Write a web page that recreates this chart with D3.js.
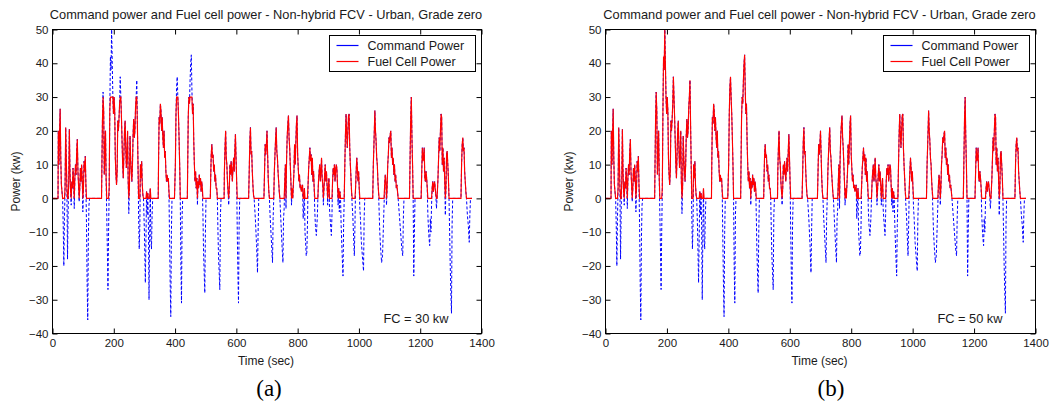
<!DOCTYPE html>
<html>
<head>
<meta charset="utf-8">
<script src="https://cdn.jsdelivr.net/npm/d3@7/dist/d3.min.js"></script>
<style>
  html, body { margin: 0; padding: 0; background: #ffffff; }
  svg { display: block; }
  text { font-family: Arial, "Liberation Sans", sans-serif; fill: #1a1a1a; }
</style>
</head>
<body>
<svg id="chart" width="1052" height="405"></svg>
<script>
// ---------------- data ----------------
const chartTitle = "Command power and Fuel cell power - Non-hybrid FCV - Urban, Grade zero";
const seriesNames = ["Command Power", "Fuel Cell Power"];
const panelLetters = ["(a)", "(b)"];
const fcRatingKw = [30, 50];
const xTicks = [0, 200, 400, 600, 800, 1000, 1200, 1400];
const yTicks = [-40, -30, -20, -10, 0, 10, 20, 30, 40, 50];
const xLabel = "Time (sec)";
const yLabel = "Power (kw)";

// command power (kW) vs time (s), urban cycle
const timeSec = [
  0,18,19,21,23,25,27,29,31,33,35,37,39,41,43,45,47,49,51,53,55,57,59,61,63,65,67,69,71,73,75,77,79,81,83,85,87,89,91,93,95,97,99,101,103,105,107,109,111,113,115,117,119,121,160,
  161,163,165,167,169,171,173,175,177,179,181,183,185,187,189,191,193,195,197,199,201,203,205,207,209,211,213,215,217,219,221,223,225,227,229,231,233,235,237,239,241,243,245,247,249,251,253,255,257,259,261,263,265,267,269,271,273,275,277,279,281,283,285,287,289,291,293,295,297,300,303,305,307,309,311,313,315,317,319,321,323,325,327,345,
  346,348,350,352,354,356,358,360,362,364,366,368,370,372,374,376,378,380,382,384,386,388,390,398,
  401,403,405,407,409,411,413,415,417,419,421,423,425,440,
  441,443,445,447,449,451,453,455,457,459,461,463,465,467,469,471,473,475,477,479,481,483,485,487,489,491,493,495,497,499,501,515,
  516,518,520,522,524,526,528,530,532,534,536,538,540,542,544,546,548,550,560,
  561,563,565,567,569,571,573,575,577,579,581,583,585,587,589,591,593,595,597,599,601,603,605,607,609,611,640,
  642,644,646,648,650,652,654,656,658,662,666,669,671,673,690,
  692,694,696,698,700,702,704,706,708,710,714,718,720,722,724,726,728,730,732,734,736,738,740,742,745,749,752,754,756,758,760,762,764,766,768,770,772,774,776,778,780,782,784,
  788,790,792,794,796,798,800,802,804,806,808,810,812,814,816,818,820,822,824,826,828,830,832,834,836,838,840,842,844,846,848,850,852,854,856,858,861,864,866,
  868,870,872,874,876,878,880,882,884,886,888,890,892,894,896,898,900,902,904,906,910,912,914,916,918,920,922,924,926,928,930,932,934,936,938,940,942,945,948,950,952,
  954,956,958,960,962,964,966,968,970,972,974,976,978,980,982,985,987,989,991,993,995,997,999,1001,1003,1005,1008,1012,1015,1017,1019,1045,
  1047,1049,1052,1054,1056,1058,1060,1062,1064,1066,1068,1071,1074,1077,1080,1082,1084,1086,1088,1090,1092,1094,1096,1098,1100,1102,1104,1106,1108,1110,1112,1114,1116,1118,1120,1122,1124,1126,1128,1132,1136,1140,1143,1145,1147,1165,
  1167,1169,1171,1173,1175,1177,1179,1181,1183,1203,
  1205,1207,1209,1211,1213,1215,1217,1219,1221,1223,1225,1228,1231,1233,1235,1237,1239,1241,1243,1245,1247,1249,1251,1253,1255,
  1258,1260,1262,1264,1266,1268,1270,1272,1274,1276,1278,1280,1282,1284,1286,1288,1290,1292,1294,1296,1298,1300,1302,1304,1306,1333,
  1335,1337,1339,1341,1343,1345,1347,1349,1351,1354,1357,1360,1362,1364,1369
];
const commandKw = [
  0,0,20,10,19,26.5,12,4,2,0,-8,-20,-6,3,21,12,3,-18,-4,5,20.5,8,2,-2,5,3,9,5,-3,6,10,7,14,17.5,8,4,-1,3,9,5,10,6,-4,3,11,8,12.5,4,-8,-25,-36,-12,-2,0,0,
  8,23,31.5,26,7,14,20,6,-5,-15,-27,-10,3,26,42,38,50,40,30,25,30,26,12,7,4,8,23,20,23.5,28,36,30,24,17,10,6,13,20,23,15,9,13,20,5,-4.5,3,18.5,12,8,5,10,19,23.5,18,20,27,30,35,22,10,-5,-15,-8,10,6,11,4,1,0,-10,-25,-12,2,-5,1.5,-8,-30,-10,3,-12,-15,-5,0,0,
  10,24,22,28,26,20,24,18,15,20,12,14,8,5,7,5,6,2,-12,-25,-35,-10,0,0,
  10,25,33,36,30,25,18,10,0,-20,-31,-5,0,0,
  8,24,30,28,35,40,42.5,32,25,28,17,10,5,8,3,6,-2,5,3,7,4,6,2,5,3,-5,-16,-22,-28,-10,0,0,
  5,13,16,12,13,8,10,5,7,3,3,0,-10,-18,-22,-27,-5,0,0,
  8,15,20,12,10,5,2,-2,3,10,7,11,8,5,9,12,8,14,19,12,5,-10,-22,-31,-8,0,0,
  8,17,21,13,14,8,4,1,0,-6,-14,-22,-10,0,0,
  8,16,13,16,20,13,6,2,0,-5,-12,-19,-6,0,8,13,17.5,21,14,12,8,5,2,0,-6,-14,-19,-6,-3,5,10,-3,12,18.5,22,24.5,18,15,10,5,-2,3,0,
  8,16,10,16,22,24.5,13,9,5,7,3,4,2,3,4,-6,-2,3,-10,-13,-17,-16,-8,4,9,12,15,11,13,7,12,5,8,3,-4,-8,-11,-6,0,
  5,8,10,5,8,12,6,4,-2,3,7,10,5,8,4,-2,3,6,-3,-6,-11,-5,5,9,7,10,5,8,10,9,4,-2,3,-4,2,0,-8,-16,-23,-8,0,
  10,19,25,19,15,20,24.5,25,15,10,6,2,-2,-5,-10,-17,-8,3,8,12,9,5,8,3,-3,-6,-13,-18,-21.5,-6,0,0,
  10,16,26,20,17,12,10,5,2,-4,-10,-15,-19,-17,-8,-2,4,7,5,-2,3,10,13,18,16.5,19,20,12,15,10,12,7,10,5,7,3,4,2,0,-5,-10,-15,-17,-6,0,0,
  12,24,30,18,10,0,-23,-10,0,0,
  8,15,11,12,15,6,5,8,6,3,-5,-11,-14,-6,-10,-2,3,5,2,4,5,3,1,-3,0,
  6,12,18,14,20,25,24,10,15,8,12,5,-5,3,13,14,10,6,0,-10,-20,-28,-34,-8,0,0,
  10,16,18,14,15,8,5,2,0,-5,-8,-13,-5,0,0
];

// ---------------- layout ----------------
const svg = d3.select("#chart");
const plotTop = 29.5, plotBottom = 333.5;
const panels = [
  { left: 52.5, right: 481.5, letterX: 269 },
  { left: 605.5, right: 1035.5, letterX: 831 }
];
const samples = timeSec.map((t, i) => ({ t: t, p: commandKw[i] }));

panels.forEach((pn, k) => {
  const fc = fcRatingKw[k];
  const x = d3.scaleLinear().domain([xTicks[0], xTicks[xTicks.length - 1]]).range([pn.left, pn.right]);
  const y = d3.scaleLinear().domain([yTicks[0], yTicks[yTicks.length - 1]]).range([plotBottom, plotTop]);
  const g = svg.append("g");

  const clipId = "clip" + k;
  svg.append("clipPath").attr("id", clipId).append("rect")
    .attr("x", pn.left).attr("y", plotTop).attr("width", pn.right - pn.left).attr("height", plotBottom - plotTop);

  // title
  g.append("text").attr("x", (pn.left + pn.right) / 2 - 1).attr("y", 19)
    .attr("text-anchor", "middle").style("font-size", "12.8px").text(chartTitle);

  // lines
  const line = d3.line().x(d => x(d.t)).y(d => y(d.v));
  const cmdData = samples.map(d => ({ t: d.t, v: d.p }));
  const fcData = samples.map(d => ({ t: d.t, v: Math.max(0, Math.min(fc, d.p)) }));
  const lines = g.append("g").attr("clip-path", "url(#" + clipId + ")");
  lines.append("path").datum(cmdData).attr("d", line)
    .attr("fill", "none").attr("stroke", "#0000ff").attr("stroke-width", 1)
    .attr("stroke-dasharray", "3,2");
  lines.append("path").datum(fcData).attr("d", line)
    .attr("fill", "none").attr("stroke", "#ff0000").attr("stroke-width", 1.15);

  // axes (inward ticks)
  const axB = g.append("g").attr("transform", `translate(0,${plotBottom})`)
    .call(d3.axisBottom(x).tickValues(xTicks).tickSizeInner(-5).tickSizeOuter(0).tickPadding(5).tickFormat(d3.format("d")));
  const axT = g.append("g").attr("transform", `translate(0,${plotTop})`)
    .call(d3.axisTop(x).tickValues(xTicks).tickSizeInner(-5).tickSizeOuter(0).tickFormat(""));
  const axL = g.append("g").attr("transform", `translate(${pn.left},0)`)
    .call(d3.axisLeft(y).tickValues(yTicks).tickSizeInner(-5).tickSizeOuter(0).tickPadding(4).tickFormat(d3.format("d")));
  const axR = g.append("g").attr("transform", `translate(${pn.right},0)`)
    .call(d3.axisRight(y).tickValues(yTicks).tickSizeInner(-5).tickSizeOuter(0).tickFormat(""));
  [axB, axT, axL, axR].forEach(a => {
    a.select(".domain").remove();
    a.selectAll("line").attr("stroke", "#000");
    a.selectAll("text").style("font-size", "11.5px").style("font-family", "Arial, 'Liberation Sans', sans-serif").attr("fill", "#1a1a1a");
  });

  // box
  g.append("rect").attr("x", pn.left).attr("y", plotTop)
    .attr("width", pn.right - pn.left).attr("height", plotBottom - plotTop)
    .attr("fill", "none").attr("stroke", "#000").attr("stroke-width", 1);

  // axis labels
  g.append("text").attr("x", (pn.left + pn.right) / 2 - 1).attr("y", 365)
    .attr("text-anchor", "middle").style("font-size", "12px").text(xLabel);
  g.append("text").attr("transform", `translate(${pn.left - 33},${(plotTop + plotBottom) / 2}) rotate(-90)`)
    .attr("text-anchor", "middle").style("font-size", "12px").text(yLabel);

  // legend
  const lgW = 146, lgH = 36;
  const lgX = Math.round(pn.right - 6.5 - lgW) + 0.5, lgY = plotTop + 6;
  const lg = g.append("g");
  lg.append("rect").attr("x", lgX).attr("y", lgY).attr("width", lgW).attr("height", lgH)
    .attr("fill", "#fff").attr("stroke", "#000").attr("stroke-width", 1);
  const lgColors = ["#0000ff", "#ff0000"];
  seriesNames.forEach((nm, i) => {
    const yy = lgY + 10 + i * 16;
    lg.append("line").attr("x1", lgX + 7).attr("x2", lgX + 29).attr("y1", yy).attr("y2", yy)
      .style("stroke", lgColors[i]).attr("stroke-width", 1.2);
    lg.append("text").attr("x", lgX + 38).attr("y", yy + 4.5).style("font-size", "12.5px").text(nm);
  });

  // FC annotation
  g.append("text").attr("x", pn.right - 33).attr("y", 323)
    .attr("text-anchor", "end").style("font-size", "12.8px").text(`FC = ${fc} kw`);

  // panel letter
  g.append("text").attr("x", pn.letterX).attr("y", 396).attr("text-anchor", "middle")
    .style("font-family", "'Liberation Serif', 'Times New Roman', serif").style("font-size", "23px")
    .style("fill", "#000").text(panelLetters[k]);
});
</script>
</body>
</html>
